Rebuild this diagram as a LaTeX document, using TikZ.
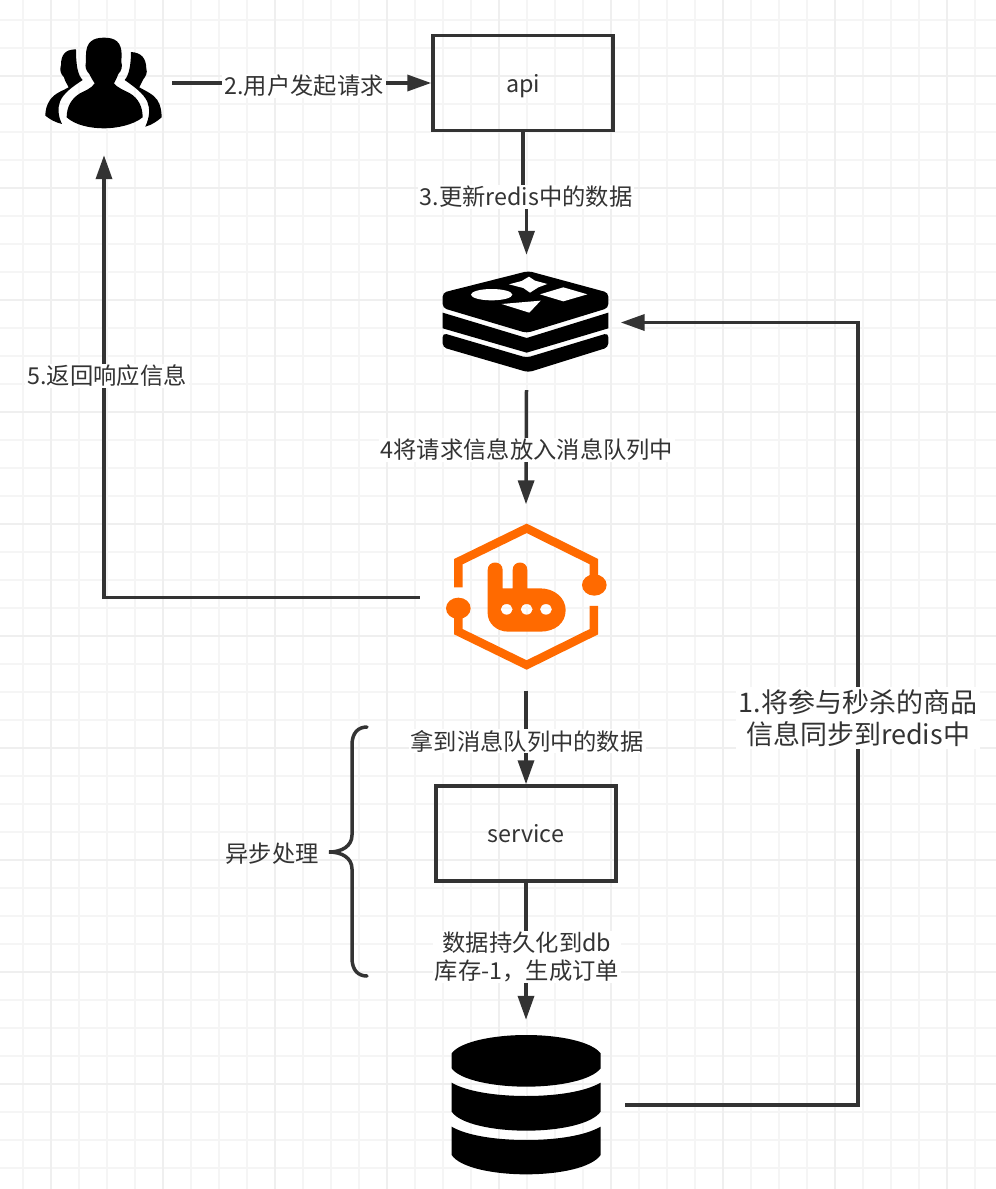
\documentclass[tikz,border=0pt]{standalone}
\usepackage{fontspec}
\setmainfont{Noto Sans CJK SC}
\usetikzlibrary{arrows.meta}
\definecolor{ink}{HTML}{333333}
\definecolor{gridminor}{HTML}{F5F5F5}
\definecolor{gridmajor}{HTML}{EFEFEF}
\definecolor{mqorange}{HTML}{FF6A00}
\tikzset{
  x=1pt,y=-1pt,
  box/.style={draw=ink,line width=3.5pt,minimum width=180pt,minimum height=95pt,inner sep=0pt,font=\fontsize{23.3}{28}\selectfont,text=ink,text height=20pt,text depth=2pt},
  icon/.style={inner sep=0pt,draw=none},
  link/.style={draw=ink,line width=3.5pt,-{Triangle[length=24pt,width=16pt]}},
  lbl/.style={fill=white,inner xsep=2pt,inner ysep=1pt,text=ink,align=center,font=\fontsize{23.3}{28}\selectfont},
  lblbig/.style={fill=white,inner xsep=3pt,inner ysep=2pt,text=ink,align=center,font=\fontsize{27}{32}\selectfont},
}
\begin{document}
\begin{tikzpicture}
\useasboundingbox (0,0) rectangle (996,1189);
\fill[white] (0,0) rectangle (996,1189);
% grid
\foreach \i in {0,...,35} {\draw[gridminor,line width=2pt] ({23+28*\i},0) -- ({23+28*\i},1189);}
\foreach \i in {0,...,42} {\draw[gridminor,line width=2pt] (0,{20+28*\i}) -- (996,{20+28*\i});}
\foreach \i in {0,...,8} {\draw[gridmajor,line width=2.7pt] ({51+112*\i},0) -- ({51+112*\i},1189);}
\foreach \i in {0,...,10} {\draw[gridmajor,line width=2.7pt] (0,{76+112*\i}) -- (996,{76+112*\i});}

% nodes
\node[icon,minimum width=136pt,minimum height=144pt] (users) at (104,83) {};
\node[box] (api) at (523,83) {api};
\node[icon,minimum width=188pt,minimum height=135pt] (redis) at (526.5,322.5) {};
\node[icon,minimum width=212pt,minimum height=186pt] (mq) at (526,597.5) {};
\node[box] (service) at (526,833.5) {service};
\node[icon,minimum width=198pt,minimum height=170pt] (db) at (526,1105) {};
\coordinate (kink) at (526.5,196);
\coordinate (turn) at (858,322.5);

% users icon
\begin{scope}[x=0.3333pt,y=-0.3333pt]
\fill[black] (312,113) .. controls (345,113) and (365,125) .. (365,165) -- (364,185) .. controls (368,200) and (365,212) .. (355,222) .. controls (350,235) and (345,245) .. (342,250) .. controls (350,262) and (375,272) .. (390,280) .. controls (415,295) and (428,320) .. (428,352) .. controls (400,375) and (350,385) .. (312,385) .. controls (270,385) and (225,375) .. (200,352) .. controls (200,320) and (215,295) .. (240,280) .. controls (255,272) and (275,265) .. (284,250) .. controls (278,240) and (272,232) .. (268,222) .. controls (258,212) and (254,200) .. (258,185) -- (258,165) .. controls (258,125) and (280,113) .. (312,113) -- cycle;
\fill[black] (228,148) .. controls (195,148) and (183,165) .. (183,195) .. controls (178,210) and (182,222) .. (192,232) .. controls (195,245) and (202,252) .. (206,262) .. controls (190,272) and (165,278) .. (150,300) .. controls (140,315) and (136,330) .. (136,347) .. controls (150,358) and (165,367) .. (186,372) .. controls (175,350) and (172,325) .. (180,305) .. controls (190,280) and (215,262) .. (248,240) .. controls (232,225) and (228,190) .. (228,148) -- cycle;
\fill[black] (393,156) .. controls (425,158) and (438,175) .. (439,205) .. controls (443,218) and (438,228) .. (430,238) .. controls (427,245) and (422,252) .. (418,262) .. controls (435,272) and (460,282) .. (472,300) .. controls (482,315) and (485,335) .. (485,352) .. controls (470,365) and (455,375) .. (436,380) .. controls (450,350) and (450,325) .. (442,305) .. controls (430,280) and (405,262) .. (374,240) .. controls (388,225) and (393,190) .. (393,156) -- cycle;
\end{scope}

% redis icon
\begin{scope}[shift={(430,260)},x=0.3333pt,y=-0.3333pt]
\fill[black,rounded corners=4pt] (295,33) -- (535,98) -- (535,144) -- (290,219) -- (38,144) -- (38,98) -- cycle;
\fill[black] (38,158) -- (290,234) -- (535,158) -- (535,205) -- (290,278) -- (38,205) -- cycle;
\fill[black,rounded corners=4pt] (38,219) -- (290,293) -- (535,219) -- (535,262) -- (295,337) -- (38,262) -- cycle;
\fill[white] (185,104) ellipse [x radius=62,y radius=17];
\fill[white] (297,50) -- (315,62) -- (352,72) -- (325,82) -- (300,98) -- (280,84) -- (237,73) -- (275,63) -- cycle;
\fill[white] (330,103) -- (400,82) -- (472,103) -- (400,124) -- cycle;
\fill[white] (215,132) -- (332,122) -- (298,158) -- cycle;
\end{scope}

% rabbitmq icon
\begin{scope}[shift={(430,510)},x=0.3333pt,y=-0.3333pt]
\draw[mqorange,line width=8.5pt,miter limit=10] (85,232) -- (85,155) -- (290,55) -- (492,155) -- (492,225);
\draw[mqorange,line width=8.5pt,miter limit=10] (85,295) -- (85,365) -- (290,465) -- (492,365) -- (492,288);
\fill[mqorange] (85,295) ellipse [x radius=37,y radius=32];
\fill[mqorange] (493,225) ellipse [x radius=37,y radius=32];
\fill[mqorange,even odd rule] (173,180) .. controls (173,150) and (218,150) .. (218,180) -- (218,235) -- (248,235) -- (248,180) .. controls (248,150) and (292,150) .. (292,180) -- (292,235) -- (330,235) .. controls (375,235) and (407,265) .. (407,300) .. controls (407,340) and (375,365) .. (330,365) -- (235,365) .. controls (200,365) and (173,340) .. (173,310) -- cycle
 (230,298) ellipse [x radius=18,y radius=16]
 (290,298) ellipse [x radius=18,y radius=16]
 (348,298) ellipse [x radius=18,y radius=16];
\end{scope}

% db icon
\begin{scope}[shift={(430,1020)},x=0.3333pt,y=-0.3333pt]
\fill[black] (65,100) .. controls (90,65) and (190,45) .. (288,45) .. controls (390,45) and (485,65) .. (512,100) -- (512,145) .. controls (485,180) and (390,200) .. (288,200) .. controls (190,200) and (90,180) .. (65,145) -- cycle;
\fill[black] (65,188) .. controls (110,215) and (200,228) .. (288,228) .. controls (380,228) and (465,215) .. (512,188) -- (512,275) .. controls (485,312) and (390,332) .. (288,332) .. controls (190,332) and (90,312) .. (65,275) -- cycle;
\fill[black] (65,320) .. controls (110,347) and (200,360) .. (288,360) .. controls (380,360) and (465,347) .. (512,320) -- (512,405) .. controls (485,443) and (390,463) .. (288,463) .. controls (190,463) and (90,443) .. (65,405) -- cycle;
\end{scope}

% connectors
\draw[link] (users.east) -- (api.west);
\draw[link] (api.south) |- (kink) -- (redis.north);
\draw[link] (redis.south) -- (mq.north);
\draw[link] (mq.south) -- (service.north);
\draw[link] (service.south) -- (db.north);
\draw[link] (mq.west) -| (users.south);
\draw[link] (db.east) -| (turn) -- (redis.east);

% brace
\draw[ink,line width=3.5pt,line cap=round] (367,727) .. controls (358,727) and (352,733) .. (352,745) -- (352,835) .. controls (352,846) and (342,852) .. (329,852) .. controls (342,852) and (352,858) .. (352,869) -- (352,958) .. controls (352,970) and (358,976) .. (367,976);

% labels
\node[lbl] (l2) at (304,86) {2.用户发起请求};
\node[lbl] (l3) at (526,197) {3.更新redis中的数据};
\node[lbl] (l5) at (107,376) {5.返回响应信息};
\node[lbl] (l4) at (527,450) {4将请求信息放入消息队列中};
\node[lbl] (lget) at (527,741) {拿到消息队列中的数据};
\node[lbl] (ldb) at (527,957) {数据持久化到db\\库存-1，生成订单};
\node[lbl,fill=none] (lasync) at (272,854) {异步处理};
\node[lblbig] (l1) at (858,718) {1.将参与秒杀的商品\\信息同步到redis中};
\end{tikzpicture}
\end{document}
